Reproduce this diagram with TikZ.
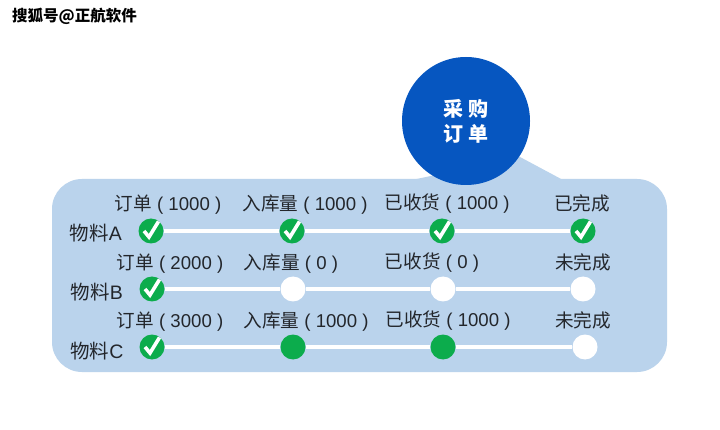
\documentclass[tikz,border=0pt]{standalone}
\usepackage{fontspec}
\setmainfont{Noto Sans CJK SC}
\newfontfamily\latfont{Liberation Sans}
\usepackage{tikz}
\definecolor{panelblue}{HTML}{BAD3EC}
\definecolor{headblue}{HTML}{0656C0}
\definecolor{okgreen}{HTML}{0CAC4C}
\definecolor{inkgray}{HTML}{23262B}
\newcommand{\amt}[1]{{\latfont\ ( #1 )}}
\tikzset{
  x=1pt, y=-1pt,
  lbl/.style={text=inkgray, font=\fontsize{18.6}{20}\selectfont, inner sep=0pt},
  mat/.style={text=inkgray, font=\fontsize{19.5}{21}\selectfont, inner sep=0pt},
  dot/.style={circle, minimum size=25pt, inner sep=0pt},
  gooddot/.style={dot, fill=okgreen},
  emptydot/.style={dot, fill=white},
  checkdot/.style={dot, fill=okgreen, path picture={
      \draw[white, line width=3.6pt]
        ([shift={(-7pt,0pt)}]path picture bounding box.center)
        -- ([shift={(-2pt,-6pt)}]path picture bounding box.center)
        -- ([shift={(7.5pt,9.5pt)}]path picture bounding box.center);}},
  bar/.style={white, line width=4pt}
}
\begin{document}
\begin{tikzpicture}
      \useasboundingbox (0, 0) rectangle (720, 430);
      \fill[white] (0, 0) rectangle (720, 430);
      \node[anchor=west, inner sep=0pt, font=\bfseries\fontsize{15.5}{17}\selectfont] (mark) at (12, 16) {搜狐号@正航软件};
      % panel and pointer
      \fill[panelblue, rounded corners=30pt] (52, 179) rectangle (667, 372);
      \fill[panelblue] (412, 180) -- (520, 157) -- (563, 180) -- cycle;
      \node[circle, fill=headblue, minimum size=128pt, inner sep=0pt, text=white, align=center,
        font=\bfseries\fontsize{20}{25}\selectfont] (head) at (466, 121) {采 购\\订 单};
      % row A
      \node[lbl] (txtOrdA) at (168, 205) {订单\amt{1000}};
      \node[lbl] (txtInA) at (305, 205) {入库量\amt{1000}};
      \node[lbl] (txtShipA) at (447, 204) {已收货\amt{1000}};
      \node[lbl] (txtEndA) at (582, 203) {已完成};
      \node[mat] (matA) at (96, 233) {物料{\latfont A}};
      \node[checkdot] (ordA) at (151, 231) {};
      \node[checkdot] (inA) at (292, 231) {};
      \node[checkdot] (shipA) at (442, 231) {};
      \node[checkdot] (endA) at (583, 231) {};
      \draw[bar] (ordA) -- (inA);
      \draw[bar] (inA) -- (shipA);
      \draw[bar] (shipA) -- (endA);
      % row B
      \node[lbl] (txtOrdB) at (170, 264) {订单\amt{2000}};
      \node[lbl] (txtInB) at (291, 264) {入库量\amt{0}};
      \node[lbl] (txtShipB) at (432, 263) {已收货\amt{0}};
      \node[lbl] (txtEndB) at (583, 262) {未完成};
      \node[mat] (matB) at (97, 292) {物料{\latfont B}};
      \node[checkdot] (ordB) at (152, 289) {};
      \node[emptydot] (inB) at (293, 289) {};
      \node[emptydot] (shipB) at (443, 289) {};
      \node[emptydot] (endB) at (583, 289) {};
      \draw[bar] (ordB) -- (inB);
      \draw[bar] (inB) -- (shipB);
      \draw[bar] (shipB) -- (endB);
      % row C
      \node[lbl] (txtOrdC) at (170, 322) {订单\amt{3000}};
      \node[lbl] (txtInC) at (306, 322) {入库量\amt{1000}};
      \node[lbl] (txtShipC) at (448, 321) {已收货\amt{1000}};
      \node[lbl] (txtEndC) at (583, 320) {未完成};
      \node[mat] (matC) at (97, 351) {物料{\latfont C}};
      \node[checkdot] (ordC) at (152, 347) {};
      \node[gooddot] (inC) at (293, 347) {};
      \node[gooddot] (shipC) at (443, 347) {};
      \node[emptydot] (endC) at (585, 347) {};
      \draw[bar] (ordC) -- (inC);
      \draw[bar] (inC) -- (shipC);
      \draw[bar] (shipC) -- (endC);
    \end{tikzpicture}
\end{document}
